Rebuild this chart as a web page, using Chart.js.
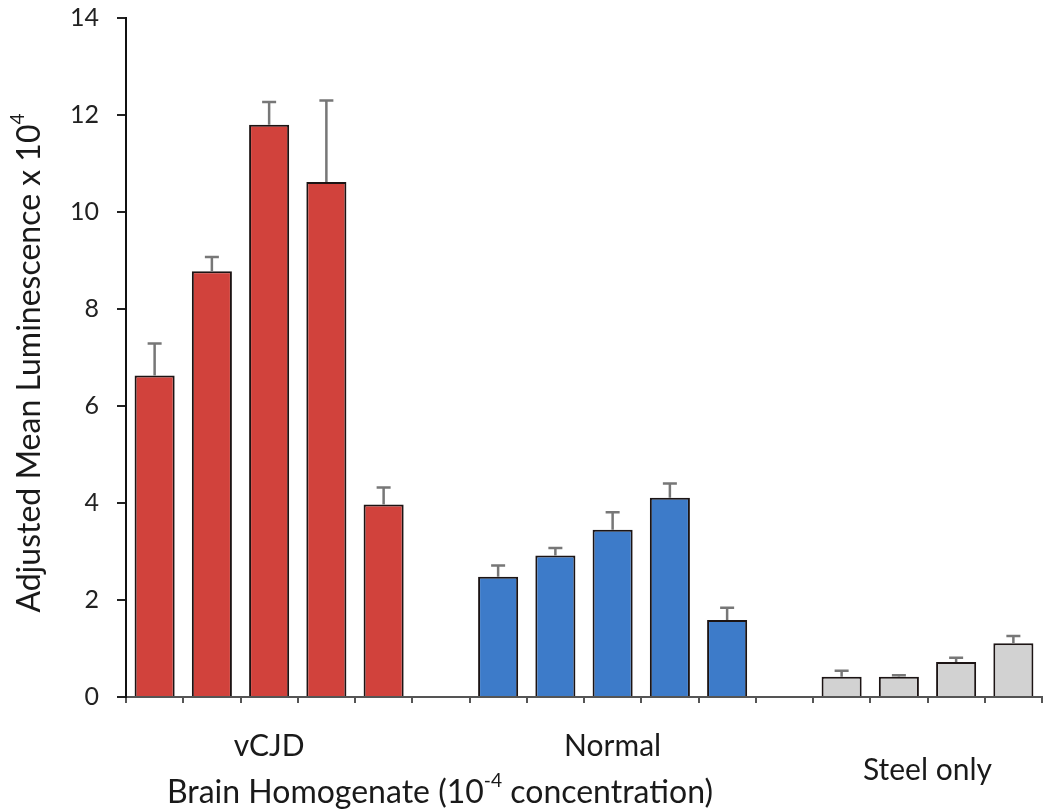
<!DOCTYPE html>
<html>
<head>
<meta charset="utf-8">
<script src="https://cdn.jsdelivr.net/npm/chart.js@4.4.1/dist/chart.umd.min.js"></script>
<style>
    html, body { margin: 0; padding: 0; background: #fff; }
    #wrap { width: 1044px; height: 812px; position: relative; }
</style>
</head>
<body>
<div id="wrap"><canvas id="lumChart" width="1044" height="812"></canvas></div>
<script>
// group means and SE (luminescence x 10^4)
var groupNames = ['vCJD', 'Normal', 'Steel only'];
var vcjdMeans = [6.63, 8.78, 11.80, 10.62, 3.97];
var vcjdErrors = [0.66, 0.29, 0.47, 1.68, 0.35];
var normalMeans = [2.48, 2.92, 3.45, 4.11, 1.59];
var normalErrors = [0.23, 0.15, 0.36, 0.29, 0.25];
var steelMeans = [0.42, 0.42, 0.72, 1.11];
var steelErrors = [0.12, 0.03, 0.09, 0.15];
var yTicks = [0, 2, 4, 6, 8, 10, 12, 14];

var groupColors = ['#d1423c', '#3d7bc9', '#d2d2d2'];
var FONT = 'Lato, "Open Sans", sans-serif';

// lay the three groups out on one category axis, one empty slot between groups
var labels = [], values = [], errors = [], fills = [], groupSlots = [];
var groups = [[vcjdMeans, vcjdErrors], [normalMeans, normalErrors], [steelMeans, steelErrors]];
for (var g = 0; g < groups.length; g++) {
    if (g > 0) {
        labels.push('gap' + g);
        values.push(null);
        errors.push(null);
        fills.push('rgba(0,0,0,0)');
    }
    var first = labels.length;
    for (var i = 0; i < groups[g][0].length; i++) {
        labels.push(groupNames[g] + ' ' + (i + 1));
        values.push(groups[g][0][i]);
        errors.push(groups[g][1][i]);
        fills.push(groupColors[g]);
    }
    groupSlots.push([first, labels.length - 1]);
}

// draws text, raising the parts flagged as superscript
function drawRich(ctx, parts, size) {
    var total = 0;
    for (var i = 0; i < parts.length; i++) {
        ctx.font = (parts[i].sup ? size * 0.6 : size) + 'px ' + FONT;
        parts[i].w = ctx.measureText(parts[i].t).width;
        total += parts[i].w;
    }
    var x = -total / 2;
    ctx.textAlign = 'left';
    ctx.textBaseline = 'middle';
    for (var j = 0; j < parts.length; j++) {
        ctx.font = (parts[j].sup ? size * 0.6 : size) + 'px ' + FONT;
        ctx.fillText(parts[j].t, x, parts[j].sup ? -size * 0.38 : 0);
        x += parts[j].w;
    }
}

var errorBars = {
    id: 'errorBars',
    afterDatasetsDraw: function(chart) {
        var ctx = chart.ctx;
        var meta = chart.getDatasetMeta(0);
        var y = chart.scales.y;
        ctx.save();
        ctx.strokeStyle = '#777';
        ctx.lineWidth = 2.5;
        for (var i = 0; i < values.length; i++) {
            if (values[i] === null) continue;
            var bx = meta.data[i].x;
            var top = y.getPixelForValue(values[i]);
            var hi = y.getPixelForValue(values[i] + errors[i]);
            ctx.beginPath();
            ctx.moveTo(bx, top);
            ctx.lineTo(bx, hi);
            ctx.moveTo(bx - 7, hi);
            ctx.lineTo(bx + 7, hi);
            ctx.stroke();
        }
        ctx.restore();
    }
};

var axisText = {
    id: 'axisText',
    afterDraw: function(chart) {
        var ctx = chart.ctx;
        var x = chart.scales.x;
        var area = chart.chartArea;
        ctx.save();
        ctx.fillStyle = '#1a1a1a';
        ctx.textAlign = 'center';
        ctx.textBaseline = 'middle';
        ctx.font = '30px ' + FONT;
        for (var g = 0; g < groupSlots.length; g++) {
            var cx = (x.getPixelForValue(groupSlots[g][0]) + x.getPixelForValue(groupSlots[g][1])) / 2;
            var ty = g === 2 ? area.bottom + 73 : area.bottom + 49;
            ctx.fillText(groupNames[g], cx, ty);
        }

        ctx.translate(440, area.bottom + 96);
        drawRich(ctx, [{ t: 'Brain Homogenate (10' }, { t: '-4', sup: true }, { t: ' concentration)' }], 32);
        ctx.restore();

        ctx.save();
        ctx.fillStyle = '#1a1a1a';
        ctx.translate(30, 363);
        ctx.rotate(-Math.PI / 2);
        drawRich(ctx, [{ t: 'Adjusted Mean Luminescence x 10' }, { t: '4', sup: true }], 32);
        ctx.restore();
    }
};

new Chart(document.getElementById('lumChart'), {
    type: 'bar',
    data: {
        labels: labels,
        datasets: [{
            data: values,
            backgroundColor: fills,
            borderColor: '#1c1414',
            borderWidth: 2,
            borderSkipped: 'bottom',
            categoryPercentage: 1.0,
            barPercentage: 0.7
        }]
    },
    options: {
        responsive: false,
        animation: false,
        layout: { padding: { left: 0, right: 2, top: 18, bottom: 0 } },
        plugins: { legend: { display: false }, tooltip: { enabled: false } },
        scales: {
            x: {
                offset: true,
                grid: { offset: true, drawOnChartArea: false, tickLength: 6, color: '#555', lineWidth: 2 },
                border: { color: '#555', width: 2 },
                ticks: { display: false },
                afterFit: function(scale) { scale.height = 115; }
            },
            y: {
                min: 0,
                max: 14,
                afterBuildTicks: function(scale) {
                    scale.ticks = yTicks.map(function(v) { return { value: v }; });
                },
                grid: { drawOnChartArea: false, tickLength: 9, color: '#222', lineWidth: 2 },
                border: { color: '#111', width: 2 },
                ticks: { color: '#222', padding: 18, font: { family: FONT, size: 25 } },
                afterFit: function(scale) {
                    scale.width = 126;
                    // label overflow is covered by the layout padding
                    scale.paddingTop = 0;
                    scale.paddingBottom = 0;
                }
            }
        }
    },
    plugins: [errorBars, axisText]
});
</script>
</body>
</html>
